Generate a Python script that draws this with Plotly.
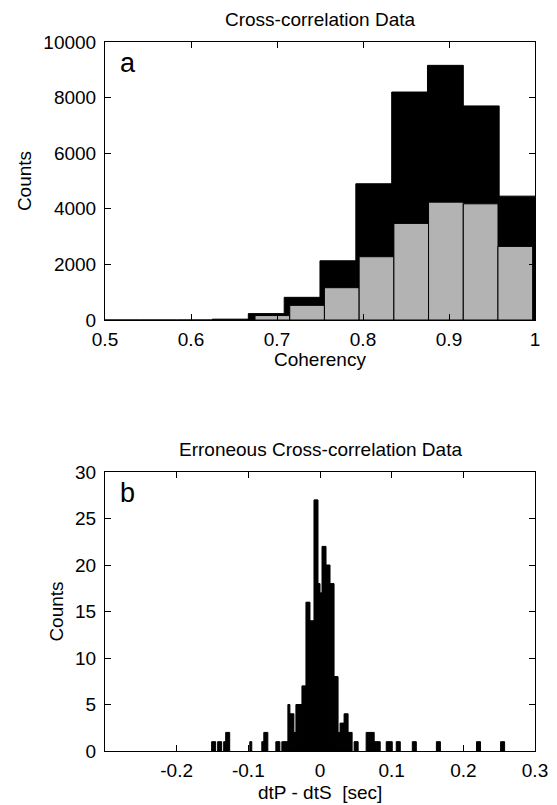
import plotly.graph_objects as go

# ---------------- Panel a: coherency histograms ----------------
coh_all_centers = [0.5208, 0.5625, 0.6042, 0.6458, 0.6875, 0.7292,
                   0.7708, 0.8125, 0.8542, 0.8958, 0.9375, 0.9792]
coh_all_counts = [0, 0, 0, 30, 230, 815, 2130, 4900, 8200, 9160, 7700, 4455]

coh_sel_centers = [0.6946, 0.7350, 0.7753, 0.8157, 0.8561, 0.8964, 0.9368, 0.9771]
coh_sel_counts = [160, 527, 1162, 2276, 3474, 4240, 4180, 2647]

coh_xticks = [0.5, 0.6, 0.7, 0.8, 0.9, 1.0]
coh_xticktext = ["0.5", "0.6", "0.7", "0.8", "0.9", "1"]
coh_yticks = [0, 2000, 4000, 6000, 8000, 10000]
coh_yticktext = ["0", "2000", "4000", "6000", "8000", "10000"]

# ---------------- Panel b: dtP - dtS histogram ----------------
dt_centers = [-0.1498, -0.1470, -0.1414, -0.1386, -0.1330, -0.1302, -0.1274,
              -0.0966, -0.0798, -0.0770, -0.0742, -0.0602, -0.0574,
              -0.0518, -0.0490, -0.0462, -0.0434, -0.0406, -0.0378, -0.0350,
              -0.0322, -0.0294, -0.0266, -0.0238, -0.0210, -0.0182, -0.0154,
              -0.0126, -0.0098, -0.0070, -0.0042, -0.0014, 0.0014, 0.0042,
              0.0070, 0.0098, 0.0126, 0.0154, 0.0182, 0.0210, 0.0238, 0.0266,
              0.0294, 0.0322, 0.0350, 0.0378, 0.0406, 0.0434, 0.0490, 0.0518,
              0.0658, 0.0686, 0.0714, 0.0742, 0.0770, 0.0798, 0.0826,
              0.0938, 0.0966, 0.0994, 0.1078, 0.1106, 0.1302, 0.1330,
              0.1638, 0.1666, 0.2198, 0.2226, 0.2534, 0.2562]
dt_counts = [1, 1, 1, 1, 1, 2, 2,
             1, 1, 2, 2, 1, 1,
             1, 1, 1, 5, 4, 4, 2,
             5, 5, 5, 7, 7, 16, 16,
             14, 14, 27, 27, 18, 17, 22,
             22, 20, 20, 18, 18, 8, 8, 2,
             3, 3, 4, 4, 2, 2, 1, 1,
             2, 2, 2, 2, 1, 1, 1,
             1, 1, 1, 1, 1, 1, 1,
             1, 1, 1, 1, 1, 1]

dt_xticks = [-0.2, -0.1, 0.0, 0.1, 0.2, 0.3]
dt_xticktext = ["-0.2", "-0.1", "0", "0.1", "0.2", "0.3"]
dt_yticks = [0, 5, 10, 15, 20, 25, 30]
dt_yticktext = ["0", "5", "10", "15", "20", "25", "30"]

COH_BIN = 0.5 / 12
SEL_BIN = 0.04036
DT_BIN = 0.0028

FONT = "Liberation Sans, Arial, Helvetica, sans-serif"
TICK_SIZE = 19
LABEL_SIZE = 19

fig = go.Figure()

fig.add_trace(go.Bar(x=coh_all_centers, y=coh_all_counts, width=COH_BIN,
                     marker=dict(color="black", line=dict(color="black", width=1)),
                     xaxis="x", yaxis="y", showlegend=False))
fig.add_trace(go.Bar(x=coh_sel_centers, y=coh_sel_counts, width=SEL_BIN,
                     marker=dict(color="#b3b3b3", line=dict(color="black", width=1)),
                     xaxis="x", yaxis="y", showlegend=False))
fig.add_trace(go.Bar(x=dt_centers, y=dt_counts, width=DT_BIN,
                     marker=dict(color="black", line=dict(color="black", width=1)),
                     xaxis="x2", yaxis="y2", showlegend=False))

W, H = 557, 805
xdom = [105 / W, 535 / W]
ydom1 = [1 - 320 / H, 1 - 42 / H]
ydom2 = [1 - 751 / H, 1 - 472 / H]

axis_common = dict(showline=True, linecolor="black", linewidth=1, mirror="allticks",
                   ticks="inside", ticklen=6, tickwidth=1, tickcolor="black",
                   showgrid=False, zeroline=False, automargin=False,
                   tickfont=dict(family=FONT, size=TICK_SIZE, color="black"))

fig.update_layout(
    width=W, height=H,
    margin=dict(l=0, r=0, t=0, b=0),
    paper_bgcolor="white", plot_bgcolor="white",
    barmode="overlay",
    font=dict(family=FONT, color="black"),
    xaxis=dict(domain=xdom, anchor="y", range=[0.5, 1.0],
               tickvals=coh_xticks, ticktext=coh_xticktext,
               ticklabelstandoff=2, **axis_common),
    yaxis=dict(domain=ydom1, anchor="x", range=[0, 10000],
               tickvals=coh_yticks, ticktext=coh_yticktext,
               ticklabelstandoff=4,
               title=dict(text="Counts", font=dict(size=LABEL_SIZE), standoff=6),
               **axis_common),
    xaxis2=dict(domain=xdom, anchor="y2", range=[-0.3, 0.3],
                tickvals=dt_xticks, ticktext=dt_xticktext,
                ticklabelstandoff=2, **axis_common),
    yaxis2=dict(domain=ydom2, anchor="x2", range=[0, 30],
                tickvals=dt_yticks, ticktext=dt_yticktext,
                ticklabelstandoff=4,
                title=dict(text="Counts", font=dict(size=LABEL_SIZE), standoff=6),
                **axis_common),
    annotations=[
        dict(text="Cross-correlation Data", xref="x domain", yref="y domain",
             x=0.5, y=1, xanchor="center", yanchor="bottom", yshift=10,
             showarrow=False, font=dict(size=LABEL_SIZE)),
        dict(text="Erroneous Cross-correlation Data", xref="x2 domain", yref="y2 domain",
             x=0.5, y=1, xanchor="center", yanchor="bottom", yshift=10,
             showarrow=False, font=dict(size=LABEL_SIZE)),
        dict(text="Coherency", xref="x domain", yref="paper",
             x=0.5, y=1 - 347 / H, xanchor="center", yanchor="top",
             showarrow=False, font=dict(size=LABEL_SIZE)),
        dict(text="dtP - dtS\u00a0 [sec]", xref="x2 domain", yref="paper",
             x=0.5, y=0, xanchor="center", yanchor="bottom", yshift=0,
             showarrow=False, font=dict(size=LABEL_SIZE)),
        dict(text="a", xref="x domain", yref="y domain", x=0.03, y=0.985,
             xanchor="left", yanchor="top", showarrow=False, font=dict(size=27)),
        dict(text="b", xref="x2 domain", yref="y2 domain", x=0.03, y=0.985,
             xanchor="left", yanchor="top", showarrow=False, font=dict(size=27)),
    ],
)

fig.write_html("out.html", config={"displayModeBar": False},
               post_script="document.body.style.margin='0';")
